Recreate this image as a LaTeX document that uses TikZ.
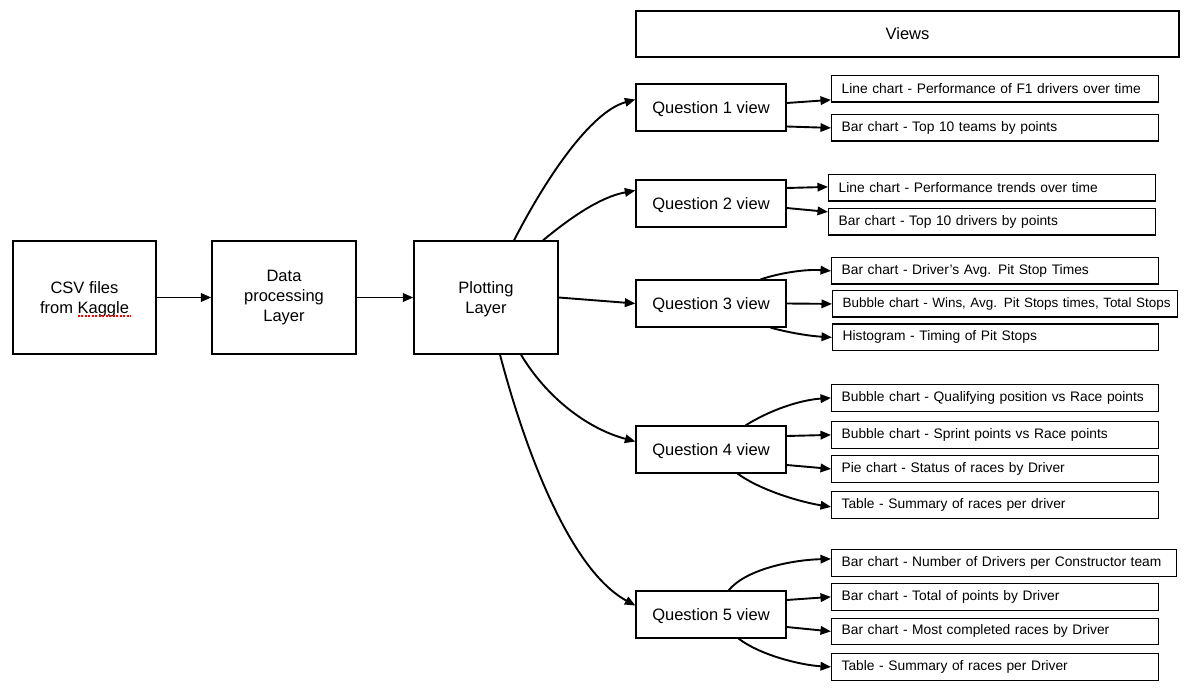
\documentclass[tikz,border=0pt]{standalone}
\usepackage{fontspec}
\setmainfont{Liberation Sans}
\usetikzlibrary{arrows.meta}
\begin{document}
\begin{tikzpicture}[x=1pt,y=-1pt,
  box/.style={draw=black, line width=1.3pt, fill=white, inner sep=0pt, align=center,
    font=\fontsize{16.5}{20}\selectfont},
  lb/.style={draw=black, line width=1.3pt, fill=white, inner xsep=10pt, inner ysep=0pt,
    align=left, anchor=north west, minimum height=26.5pt,
    font=\fontsize{13.8}{16}\selectfont},
  arr/.style={line width=1.9pt, -{Triangle[length=10.5pt,width=8.5pt]}},
]
\useasboundingbox (0,0) rectangle (1188,692);

% main chain
\node[box, text depth=-4pt, minimum width=143pt, minimum height=113pt] (csv) at (84.5,297.5) {CSV files\\from Kaggle};
\node[box, minimum width=144pt, minimum height=113pt] (data) at (284,297.5) {Data\\processing\\Layer};
\node[box, text depth=-4pt, minimum width=144pt, minimum height=113pt] (plot) at (486,297.5) {Plotting\\Layer};

% views header
\node[box, text depth=-3.5pt, minimum width=543pt, minimum height=46pt] (views) at (907.5,34) {Views};

% question nodes
\node[box, text depth=-9.5pt, minimum width=150pt, minimum height=47pt] (q1) at (711,107.5) {Question 1 view};
\node[box, text depth=-9.5pt, minimum width=150pt, minimum height=47pt] (q2) at (711,203.5) {Question 2 view};
\node[box, text depth=-9.5pt, minimum width=150pt, minimum height=47pt] (q3) at (711,303.5) {Question 3 view};
\node[box, text depth=-9.5pt, minimum width=150pt, minimum height=47pt] (q4) at (711,449.5) {Question 4 view};
\node[box, text depth=-9.5pt, minimum width=150pt, minimum height=47pt] (q5) at (711,614.5) {Question 5 view};

% leaf nodes
\node[lb, text width=307pt] (l1a) at (831,75) {Line chart - Performance of F1 drivers over time};
\node[lb, text width=307pt] (l1b) at (831,114) {Bar chart - Top 10 teams by points};
\node[lb, text width=307pt] (l2a) at (828,174) {Line chart - Performance trends over time};
\node[lb, text width=307pt] (l2b) at (828,208) {Bar chart - Top 10 drivers by points};
\node[lb, text width=307pt] (l3a) at (831,257) {Bar chart - Driver\symbol{39}s Avg. Pit Stop Times};
\node[lb, text width=325pt, font=\fontsize{13.45}{16}\selectfont] (l3b) at (832,290) {\mbox{Bubble chart - Wins, Avg. Pit Stops times, Total Stops}};
\node[lb, text width=306pt] (l3c) at (832,323.5) {Histogram - Timing of Pit Stops};
\node[lb, text width=307pt] (l4a) at (831,384) {Bubble chart - Qualifying position vs Race points};
\node[lb, text width=307pt] (l4b) at (831,421) {Bubble chart - Sprint points vs Race points};
\node[lb, text width=307pt] (l4c) at (831,455) {Pie chart - Status of races by Driver};
\node[lb, text width=307pt] (l4d) at (831,491) {Table - Summary of races per driver};
\node[lb, text width=325pt] (l5a) at (831,549) {\mbox{Bar chart - Number of Drivers per Constructor team}};
\node[lb, text width=307pt] (l5b) at (831,583) {Bar chart - Total of points by Driver};
\node[lb, text width=307pt] (l5c) at (831,617.5) {Bar chart - Most completed races by Driver};
\node[lb, text width=307pt] (l5d) at (831,653) {Table - Summary of races per Driver};

% spell-check underline
\draw[red, line width=1.2pt, dash pattern=on 2pt off 1.5pt] ([xshift=-7pt,yshift=-18.5pt]csv.center) -- ([xshift=46pt,yshift=-18.5pt]csv.center);

% chain arrows
\draw[arr] (csv.east) -- (data.west);
\draw[arr] (data.east) -- (plot.west);
\draw[arr] (plot.east) -- (q3.west);
\draw[arr] ([xshift=28pt]plot.north) .. controls (545,180) and (590,112) .. ([yshift=8pt]q1.west);
\draw[arr] ([xshift=57pt]plot.north) .. controls (570,218) and (600,197) .. ([yshift=13pt]q2.west);
\draw[arr] ([xshift=35pt]plot.south) .. controls (545,395) and (585,428) .. ([yshift=8pt]q4.west);
\draw[arr] ([xshift=14pt]plot.south) .. controls (525,450) and (570,570) .. ([yshift=9pt]q5.west);

% question 1
\draw[arr] ([yshift=4.5pt]q1.east) -- ([yshift=-11pt]l1a.west);
\draw[arr] ([yshift=-19pt]q1.east) -- (l1b.west);
% question 2
\draw[arr] ([yshift=15.5pt]q2.east) -- ([yshift=1pt]l2a.west);
\draw[arr] ([yshift=-4.5pt]q2.east) -- ([yshift=10pt]l2b.west);
% question 3
\draw[arr] ([xshift=-26pt]q3.north east) .. controls (780,273) and (805,269) .. (l3a.west);
\draw[arr] (q3.east) -- (l3b.west);
\draw[arr] ([xshift=-16pt]q3.south east) .. controls (790,333) and (810,336) .. (l3c.west);
% question 4
\draw[arr] ([xshift=-41pt]q4.north east) .. controls (770,410) and (800,400) .. (l4a.west);
\draw[arr] ([yshift=13.5pt]q4.east) -- (l4b.west);
\draw[arr] ([yshift=-15.5pt]q4.east) -- (l4c.west);
\draw[arr] ([xshift=-49pt]q4.south east) .. controls (760,490) and (800,502) .. ([yshift=-2pt]l4d.west);
% question 5
\draw[arr] ([xshift=-58pt]q5.north east) .. controls (745,570) and (790,560) .. ([yshift=4pt]l5a.west);
\draw[arr] ([yshift=14.5pt]q5.east) -- (l5b.west);
\draw[arr] ([yshift=-12.5pt]q5.east) -- (l5c.west);
\draw[arr] ([xshift=-48pt]q5.south east) .. controls (760,655) and (800,665) .. (l5d.west);
\end{tikzpicture}
\end{document}
